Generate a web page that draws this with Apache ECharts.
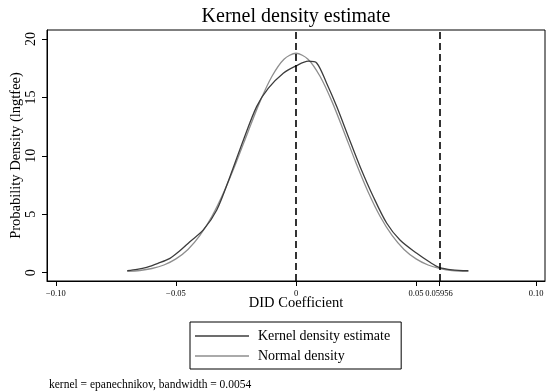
<!DOCTYPE html>
<html>
<head>
<meta charset="utf-8">
<script src="https://cdn.jsdelivr.net/npm/echarts@6/dist/echarts.min.js"></script>
<style>html,body{margin:0;padding:0;background:#fff;}#c{width:550px;height:392px;}</style>
</head>
<body>
<div id="c"></div>
<script>
// Kernel density estimate
var kernelX = [-0.0703,-0.0662,-0.0622,-0.0575,-0.0525,-0.0485,-0.0442,-0.0386,-0.0330,-0.0275,-0.0219,-0.0164,-0.0115,-0.0053,0,0.0051,0.0086,0.0128,0.0170,0.0218,0.0267,0.0322,0.0378,0.0433,0.0503,0.0558,0.0596,0.0650,0.0718];
var kernelY = [0.17,0.28,0.46,0.80,1.23,1.85,2.65,3.66,5.37,8.22,11.36,14.21,15.79,17.07,17.7,18.1,17.95,16.2,14.2,11.64,9.07,6.5,4.23,2.8,1.66,0.89,0.46,0.25,0.17];
// Normal density
var normalX = [-0.0703,-0.065,-0.060,-0.055,-0.050,-0.045,-0.040,-0.035,-0.030,-0.025,-0.020,-0.015,-0.010,-0.005,0,0.005,0.010,0.015,0.020,0.025,0.030,0.035,0.040,0.045,0.050,0.055,0.060,0.065,0.0718];
var normalY = [0.12,0.19,0.36,0.66,1.18,1.99,3.19,4.83,6.93,9.39,12.05,14.64,16.81,18.27,18.78,18.27,16.81,14.64,12.05,9.39,6.93,4.83,3.19,1.99,1.18,0.66,0.36,0.19,0.12];
// Reference lines
var refLines = [0, 0.05956];
// Tick values and labels
var xTicks = [-0.10,-0.05,0,0.05,0.05956,0.10];
var xTickLabels = ["\u22120.10","\u22120.05","0","0.05","0.05956","0.10"];
var yTicks = [0,5,10,15,20];
var yTickLabels = ["0","5","10","15","20"];

var titleText = "Kernel density estimate";
var xName = "DID Coefficient";
var yName = "Probability Density (lngtfee)";
var seriesNames = ["Kernel density estimate","Normal density"];
var seriesColors = ["#3c3c3c","#8e8e8e"];
var noteText = "kernel = epanechnikov, bandwidth = 0.0054";

function pairs(xs, ys){ return xs.map(function(x,i){ return [x, ys[i]]; }); }
var FONT = '"Liberation Serif", "Times New Roman", serif';

var chart = echarts.init(document.getElementById('c'), null, {renderer:'canvas'});
chart.setOption({
  animation:false,
  backgroundColor:'#fff',
  title:{text:titleText, left:291, textAlign:'center', top:2,
    textStyle:{fontFamily:FONT, fontSize:20, fontWeight:'normal', color:'#000'}},
  grid:{left:47, right:5, top:30, bottom:111, containLabel:false, outerBoundsMode:'none',
    show:true, borderColor:'#000', borderWidth:1, backgroundColor:'#fff'},
  xAxis:{type:'value', min:-0.1037, max:0.1037,
    name:xName, nameLocation:'middle', nameGap:15, nameMoveOverlap:false,
    nameTextStyle:{fontFamily:FONT, fontSize:14.5, color:'#000'},
    axisLine:{show:true, onZero:false, lineStyle:{color:'#000', width:1}},
    axisTick:{show:true, length:5, customValues:xTicks, lineStyle:{color:'#000'}},
    axisLabel:{show:true, customValues:xTicks, margin:8, fontFamily:FONT, fontSize:8.5, color:'#000',
      hideOverlap:false,
      formatter:function(v){ var i = xTicks.indexOf(v); return i>=0 ? xTickLabels[i] : ''; }},
    splitLine:{show:false}},
  yAxis:{type:'value', min:-0.71, max:20.77,
    name:yName, nameLocation:'middle', nameGap:23, nameRotate:90, nameMoveOverlap:false,
    nameTextStyle:{fontFamily:FONT, fontSize:14.5, color:'#000'},
    axisLine:{show:true, onZero:false, lineStyle:{color:'#000', width:1}},
    axisTick:{show:true, length:5, customValues:yTicks, lineStyle:{color:'#000'}},
    axisLabel:{show:true, customValues:yTicks, rotate:90, margin:9, fontFamily:FONT, fontSize:14, color:'#000',
      formatter:function(v){ var i = yTicks.indexOf(v); return i>=0 ? yTickLabels[i] : ''; }},
    splitLine:{show:false}},
  legend:{show:true, orient:'vertical', left:190, top:322, itemWidth:54, itemHeight:1.4, itemGap:6,
    padding:[7,11,6,5], borderColor:'#000', borderWidth:1, backgroundColor:'#fff',
    textStyle:{fontFamily:FONT, fontSize:14, lineHeight:14, color:'#000', padding:[0,0,0,4]},
    data:seriesNames.map(function(n,i){ return {name:n, icon:'rect', itemStyle:{color:seriesColors[i]}}; })},
  graphic:[{type:'text', left:49, top:379, style:{text:noteText, font:'11.5px ' + FONT, fill:'#000'}}],
  series:[
    {name:seriesNames[0], type:'line', data:pairs(kernelX,kernelY), symbol:'none', smooth:0.3,
      lineStyle:{color:seriesColors[0], width:1.3}, itemStyle:{color:seriesColors[0]}, z:3,
      markLine:{silent:true, symbol:['none','none'], label:{show:false},
        lineStyle:{color:'#000', type:[7,4], width:1.6},
        data:refLines.map(function(v){ return {xAxis:v}; })}},
    {name:seriesNames[1], type:'line', data:pairs(normalX,normalY), symbol:'none', smooth:0.3,
      lineStyle:{color:seriesColors[1], width:1.3}, itemStyle:{color:seriesColors[1]}, z:2}
  ]
});
</script>
</body>
</html>
